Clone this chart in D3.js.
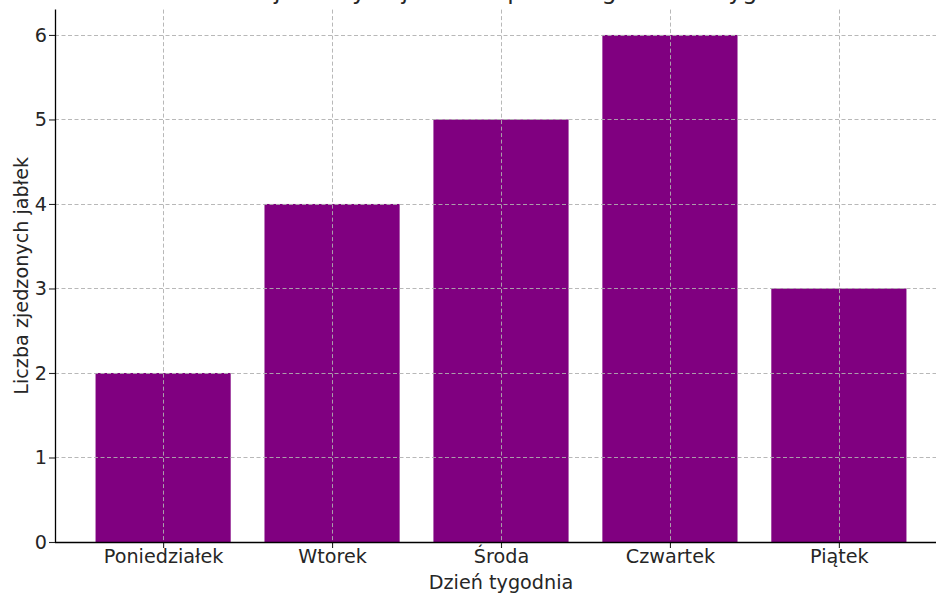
<!DOCTYPE html>
<html><head><meta charset="utf-8">
<script src="https://cdn.jsdelivr.net/npm/d3@7"></script>
<style>
html,body{margin:0;padding:0;background:#fff;}
svg{display:block;font-family:"DejaVu Sans",sans-serif;}
</style></head>
<body>
<script>
const categories = ["Poniedziałek", "Wtorek", "Środa", "Czwartek", "Piątek"];
const values = [2, 4, 5, 6, 3];
const yTicks = [0, 1, 2, 3, 4, 5, 6];
const title = "Liczba zjedzonych jabłek w poszczególne dni tygodnia";
const xLabel = "Dzień tygodnia";
const yLabel = "Liczba zjedzonych jabłek";

const W = 936, H = 596;
const m = {left: 55, top: 9.6, bottom: 542, right: 947};
const svg = d3.select("body").append("svg").attr("width", W).attr("height", H);

const n = categories.length;
const x = d3.scaleLinear().domain([-0.4 - 0.05 * (n - 0.2), n - 0.6 + 0.05 * (n - 0.2)]).range([m.left, m.right]);
const y = d3.scaleLinear().domain([0, 6.3]).range([m.bottom, m.top]);
const barW = 0.8;
const textColor = "#262626";
const fs = "19.2px";

// bars
svg.append("g").selectAll("rect").data(values).join("rect")
  .attr("x", (d, i) => x(i - barW / 2))
  .attr("width", (d, i) => x(i + barW / 2) - x(i - barW / 2))
  .attr("y", d => y(d))
  .attr("height", d => y(0) - y(d))
  .attr("fill", "#800080");

// grid (above bars)
const grid = svg.append("g");
grid.selectAll("line.h").data(yTicks).join("line").attr("class", "h")
  .attr("x1", m.left).attr("x2", W)
  .attr("y1", d => Math.round(y(d)) + 0.5).attr("y2", d => Math.round(y(d)) + 0.5)
  .attr("stroke", "#b0b0b0").attr("stroke-width", 0.9).attr("stroke-dasharray", "4,2.5");
grid.selectAll("line.v").data(categories.map((c, i) => i)).join("line").attr("class", "v")
  .attr("y1", m.top).attr("y2", m.bottom)
  .attr("x1", d => Math.round(x(d)) + 0.5).attr("x2", d => Math.round(x(d)) + 0.5)
  .attr("stroke", "#b0b0b0").attr("stroke-width", 0.9).attr("stroke-dasharray", "4,2.5");

// axes
const yAxis = d3.axisLeft(y).tickValues(yTicks).tickFormat(d3.format("d")).tickSize(6).tickPadding(2);
const gy = svg.append("g").attr("transform", `translate(${m.left},0)`).call(yAxis);
const xAxis = d3.axisBottom(x).tickValues(categories.map((c, i) => i)).tickFormat((d) => categories[d]).tickSize(6).tickPadding(1.5);
const gx = svg.append("g").attr("transform", `translate(0,${m.bottom})`).call(xAxis);
[gx, gy].forEach(g => {
  g.select(".domain").remove();
  g.selectAll(".tick line").attr("stroke", textColor).attr("stroke-width", 1.1);
  g.selectAll(".tick text").attr("fill", textColor).style("font-size", fs).style("font-family", "DejaVu Sans");
});
// spines
svg.append("line").attr("x1", m.left + 0.5).attr("x2", m.left + 0.5).attr("y1", m.top).attr("y2", m.bottom + 0.5)
  .attr("stroke", "#000").attr("stroke-width", 1.3);
svg.append("line").attr("x1", m.left).attr("x2", W).attr("y1", m.bottom + 0.5).attr("y2", m.bottom + 0.5)
  .attr("stroke", "#000").attr("stroke-width", 1.3);

// labels
svg.append("text").attr("x", (m.left + m.right) / 2).attr("y", 589)
  .attr("text-anchor", "middle").attr("fill", textColor).style("font-size", fs).text(xLabel);
svg.append("text").attr("transform", `translate(27.5,${(m.top + m.bottom) / 2}) rotate(-90)`)
  .attr("text-anchor", "middle").attr("fill", textColor).style("font-size", fs).text(yLabel);
svg.append("text").attr("x", (m.left + m.right) / 2).attr("y", -1)
  .attr("text-anchor", "middle").attr("fill", textColor).style("font-size", "23.7px").text(title);
</script>
</body></html>
